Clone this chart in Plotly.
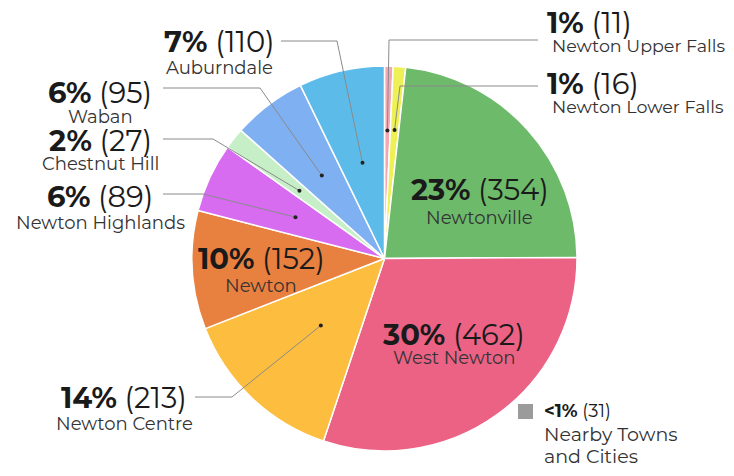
import numpy as np
import plotly.graph_objects as go

# neighbourhoods, clockwise from 12 o'clock
neighborhoods = ["Newton Upper Falls", "Newton Lower Falls", "Newtonville", "West Newton",
                 "Newton Centre", "Newton", "Newton Highlands", "Chestnut Hill", "Waban", "Auburndale"]
counts = [11, 16, 354, 462, 213, 152, 89, 27, 95, 110]
colors = ["#f4a7b2", "#eef155", "#6dba6b", "#ec6284", "#fdbd3f",
          "#e8803f", "#d86cf0", "#c6efc8", "#7eb0f2", "#5cbbe9"]

other_name = ["Nearby Towns", "and Cities"]
other_count = 31
other_pct = "&lt;1%"

OFF = 8                          # page body margin in the screenshot
W, H = 734 - 2 * OFF, 476 - 2 * OFF
cx, cy, R = 384.5, 258.5, 192.5  # pie centre / radius in screenshot pixels


def px(x):
    return (x - OFF) / W


def py(y):
    return 1 - (y - OFF) / H


total = sum(counts)
pcts = [f"{round(c / total * 100)}%" for c in counts]

fig = go.Figure()
fig.add_trace(go.Pie(labels=neighborhoods, values=counts, sort=False, direction="clockwise",
                     rotation=0, textinfo="none", hoverinfo="label+value+percent",
                     marker=dict(colors=colors, line=dict(color="white", width=1.5)),
                     domain=dict(x=[px(cx - R), px(cx + R)], y=[py(cy + R), py(cy - R)]),
                     showlegend=False))

# label placement (screenshot pixels): x, centre of value line, centre of name line,
# leader line start + elbow, dot radius as fraction of R
label_pos = {
    "Newton Upper Falls": dict(x=545, xn=550, y1=22, y2=46, align="left", line=((538, 40), (389, 40)), r=0.665),
    "Newton Lower Falls": dict(x=545, xn=550, y1=83, y2=106, align="left", line=((538, 86), (400, 86)), r=0.67),
    "Newtonville": dict(x=480, y1=190, y2=218, align="center"),
    "West Newton": dict(x=454, y1=334, y2=358, align="center"),
    "Newton Centre": dict(x=124, y1=397, y2=424, align="center", line=((195, 397), (232, 397)), r=0.48),
    "Newton": dict(x=261, y1=259, y2=286, align="center"),
    "Newton Highlands": dict(x=100, y1=196, y2=223, align="center", line=((163, 194), (203, 194)), r=0.51),
    "Chestnut Hill": dict(x=100, y1=140, y2=164, align="center", line=((163, 139), (213, 139)), r=0.565),
    "Waban": dict(x=100, y1=92, y2=117, align="center", line=((163, 88), (260, 88)), r=0.54),
    "Auburndale": dict(x=219, y1=41, y2=68, align="center", line=((281, 41), (337, 41)), r=0.51),
}

font_family = "Montserrat, Inter, Lato, sans-serif"
cum = np.cumsum([0] + counts)
for i, name in enumerate(neighborhoods):
    p = label_pos[name]
    xa = "left" if p["align"] == "left" else "center"
    fig.add_annotation(x=px(p["x"]), y=py(p["y1"]), xref="paper", yref="paper",
                       text=f"<b>{pcts[i]}</b> ({counts[i]})", showarrow=False,
                       xanchor=xa, yanchor="middle",
                       font=dict(family=font_family, size=29, color="#1a1a1a"))
    fig.add_annotation(x=px(p.get("xn", p["x"])), y=py(p["y2"]), xref="paper", yref="paper",
                       text=name, showarrow=False, xanchor=xa, yanchor="middle",
                       font=dict(family=font_family, size=17.5 if xa == "left" else 18, color="#333"))
    if "line" in p:
        ang = np.radians((cum[i] + counts[i] / 2) / total * 360)
        dx = cx + p["r"] * R * np.sin(ang)
        dy = cy - p["r"] * R * np.cos(ang)
        (x0, y0), (x1, y1) = p["line"]
        path = f"M {px(x0)} {py(y0)} L {px(x1)} {py(y1)} L {px(dx)} {py(dy)}"
        fig.add_shape(type="path", path=path, xref="paper", yref="paper",
                      line=dict(color="#8a8a8a", width=1))
        fig.add_shape(type="circle", xref="paper", yref="paper",
                      x0=px(dx - 2), x1=px(dx + 2), y0=py(dy + 2), y1=py(dy - 2),
                      fillcolor="#222", line=dict(width=0))

# separate key for the towns outside Newton
fig.add_shape(type="rect", xref="paper", yref="paper",
              x0=px(518), x1=px(533), y0=py(419), y1=py(404),
              fillcolor="#9b9b9b", line=dict(width=0))
fig.add_annotation(x=px(542), y=py(411), xref="paper", yref="paper", showarrow=False,
                   xanchor="left", yanchor="middle", text=f"<b>{other_pct}</b> ({other_count})",
                   font=dict(family=font_family, size=18, color="#1a1a1a"))
for k, line in enumerate(other_name):
    fig.add_annotation(x=px(542), y=py(434 + 22 * k), xref="paper", yref="paper", showarrow=False,
                       xanchor="left", yanchor="middle", text=line,
                       font=dict(family=font_family, size=19, color="#333"))

fig.update_layout(width=W, height=H, margin=dict(l=0, r=0, t=0, b=0),
                  paper_bgcolor="white", plot_bgcolor="white")
fig.write_html("out.html")
